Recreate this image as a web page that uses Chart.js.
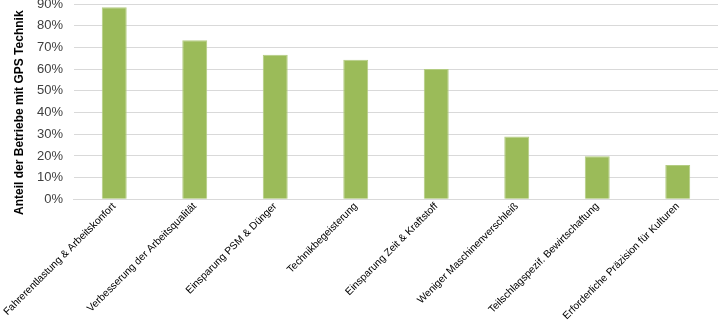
<!DOCTYPE html>
<html>
<head>
<meta charset="utf-8">
<script src="https://cdn.jsdelivr.net/npm/chart.js@4/dist/chart.umd.min.js"></script>
<style>
    body { margin: 0; background: #fff; }
    #wrap { width: 720px; height: 323px; position: relative; }
</style>
</head>
<body>
<div id="wrap"><canvas id="gpsChart"></canvas></div>
<script>
// Gründe für den Einsatz von GPS-Technik
const categories = [
    'Fahrerentlastung & Arbeitskonfort',
    'Verbesserung der Arbeitsqualität',
    'Einsparung PSM & Dünger',
    'Technikbegeisterung',
    'Einsparung Zeit & Kraftstoff',
    'Weniger Maschinenverschleiß',
    'Teilschlagspezif. Bewirtschaftung',
    'Erforderliche Präzision für Kulturen'
];
const shares = [88.5, 73.3, 66.6, 64.3, 60, 28.9, 19.9, 15.8];
const yMax = 90;
const yStep = 10;
const yTitle = 'Anteil der Betriebe mit GPS Technik';

// axis title drawn by hand so it can sit a little lower than the plot centre
const yTitlePlugin = {
    id: 'yTitle',
    afterDraw(chart) {
        const c = chart.ctx;
        const area = chart.chartArea;
        c.save();
        c.translate(20, (area.top + area.bottom) / 2 + 11);
        c.rotate(-Math.PI / 2);
        c.font = 'bold 12px "Liberation Sans"';
        c.fillStyle = '#000';
        c.textAlign = 'center';
        c.textBaseline = 'middle';
        c.fillText(yTitle, 0, 0);
        c.restore();
    }
};

const ctx = document.getElementById('gpsChart').getContext('2d');

new Chart(ctx, {
    type: 'bar',
    data: {
        labels: categories,
        datasets: [{
            data: shares,
            backgroundColor: '#9bbb59',
            borderColor: '#b3cc82',
            borderWidth: 1,
            categoryPercentage: 1,
            barPercentage: 0.31
        }]
    },
    options: {
        responsive: true,
        maintainAspectRatio: false,
        animation: false,
        layout: {
            padding: { top: 4, right: 2, left: 22, bottom: 0 }
        },
        plugins: {
            legend: { display: false },
            tooltip: { enabled: false }
        },
        scales: {
            y: {
                min: 0,
                max: yMax,
                // let the top label run off the edge instead of shrinking the plot
                afterFit: function(scale) {
                    scale.paddingTop = 0;
                },
                ticks: {
                    stepSize: yStep,
                    autoSkip: false,
                    font: { size: 13, family: 'Liberation Sans' },
                    color: '#404040',
                    padding: 11,
                    callback: function(value) {
                        return value + '%';
                    }
                },
                grid: {
                    color: '#d9d9d9',
                    drawTicks: false
                },
                border: { display: false }
            },
            x: {
                ticks: {
                    font: { size: 10.3, family: 'Liberation Sans' },
                    color: '#000',
                    maxRotation: 45,
                    minRotation: 45,
                    autoSkip: false,
                    padding: 1
                },
                grid: { display: false, drawTicks: false, tickLength: 0 },
                border: { color: '#d9d9d9', width: 1 }
            }
        }
    },
    plugins: [yTitlePlugin]
});
</script>
</body>
</html>
